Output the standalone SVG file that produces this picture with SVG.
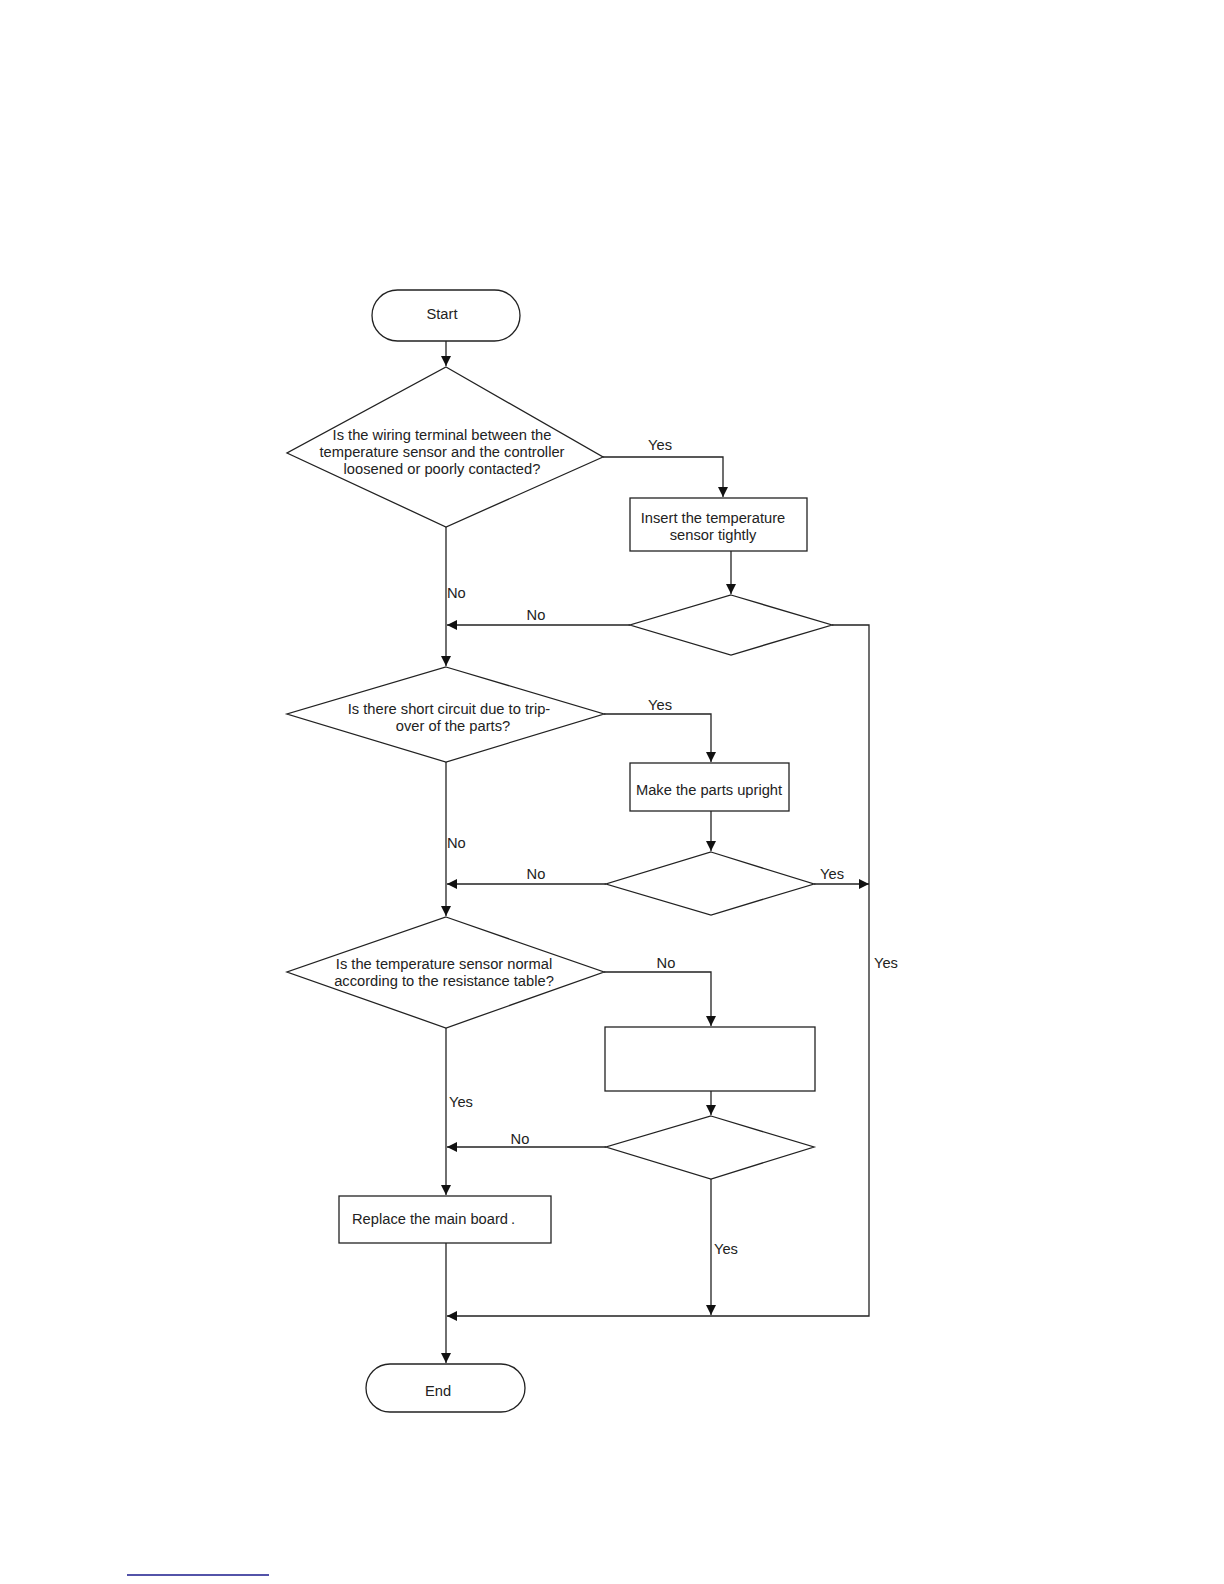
<svg xmlns="http://www.w3.org/2000/svg" width="1224" height="1584" viewBox="0 0 1224 1584">
<style>
.shape{fill:#fff;stroke:#222;stroke-width:1.3}
.conn{fill:none;stroke:#222;stroke-width:1.3}
text{font-family:"Liberation Sans",Arial,sans-serif;font-size:14.7px;fill:#222}
.c{text-anchor:middle}
</style>
<defs>
<marker id="arr" markerUnits="userSpaceOnUse" markerWidth="10" markerHeight="10" viewBox="0 0 10 10" refX="10" refY="5" orient="auto">
<path d="M0,0 L10,5 L0,10 z" fill="#111"/>
</marker>
</defs>
<rect width="1224" height="1584" fill="#fff"/>

<g id="connectors">
<path class="conn" d="M446,341 V366" marker-end="url(#arr)"/>
<path class="conn" d="M603,457 H723 V497" marker-end="url(#arr)"/>
<path class="conn" d="M731,551 V594" marker-end="url(#arr)"/>
<path class="conn" d="M630,625 H447" marker-end="url(#arr)"/>
<path class="conn" d="M832,625 H869 V1316 H447" marker-end="url(#arr)"/>
<path class="conn" d="M446,527 V666" marker-end="url(#arr)"/>
<path class="conn" d="M604,714 H711 V762" marker-end="url(#arr)"/>
<path class="conn" d="M711,811 V851" marker-end="url(#arr)"/>
<path class="conn" d="M606,884 H447" marker-end="url(#arr)"/>
<path class="conn" d="M814,884 H869" marker-end="url(#arr)"/>
<path class="conn" d="M446,762 V916" marker-end="url(#arr)"/>
<path class="conn" d="M604,972 H711 V1026" marker-end="url(#arr)"/>
<path class="conn" d="M711,1091 V1115" marker-end="url(#arr)"/>
<path class="conn" d="M606,1147 H447" marker-end="url(#arr)"/>
<path class="conn" d="M711,1179 V1315" marker-end="url(#arr)"/>
<path class="conn" d="M446,1028 V1195" marker-end="url(#arr)"/>
<path class="conn" d="M446,1243 V1363" marker-end="url(#arr)"/>
<text x="660" y="450" class="c">Yes</text>
<text x="536" y="620" class="c">No</text>
<text x="447" y="598">No</text>
<text x="660" y="710" class="c">Yes</text>
<text x="447" y="848">No</text>
<text x="536" y="879" class="c">No</text>
<text x="832" y="879" class="c">Yes</text>
<text x="666" y="968" class="c">No</text>
<text x="874" y="968">Yes</text>
<text x="449" y="1107">Yes</text>
<text x="520" y="1144" class="c">No</text>
<text x="714" y="1254">Yes</text>
</g>

<g id="start">
<rect class="shape" x="372" y="290" width="148" height="51" rx="25.5"/>
<text x="442" y="319" class="c">Start</text>
</g>

<g id="q1">
<polygon class="shape" points="446,367 603,457 446,527 287,453"/>
<text x="442" y="440" class="c">Is the wiring terminal between the</text>
<text x="442" y="457" class="c">temperature sensor and the controller</text>
<text x="442" y="474" class="c">loosened or poorly contacted?</text>
</g>

<g id="insert">
<rect class="shape" x="630" y="498" width="177" height="53"/>
<text x="713" y="523" class="c">Insert the temperature</text>
<text x="713" y="540" class="c">sensor tightly</text>
</g>

<g id="check1">
<polygon class="shape" points="731,595 832,625 731,655 630,625"/>
</g>

<g id="q2">
<polygon class="shape" points="446,667 604,714 446,762 287,714"/>
<text x="449" y="714" class="c">Is there short circuit due to trip-</text>
<text x="453" y="731" class="c">over of the parts?</text>
</g>

<g id="upright">
<rect class="shape" x="630" y="763" width="159" height="48"/>
<text x="709" y="795" class="c">Make the parts upright</text>
</g>

<g id="check2">
<polygon class="shape" points="711,852 814,884 711,915 606,884"/>
</g>

<g id="q3">
<polygon class="shape" points="446,917 604,972 446,1028 287,972"/>
<text x="444" y="969" class="c">Is the temperature sensor normal</text>
<text x="444" y="986" class="c">according to the resistance table?</text>
</g>

<g id="replace-sensor">
<rect class="shape" x="605" y="1027" width="210" height="64"/>
</g>

<g id="check3">
<polygon class="shape" points="711,1116 814,1147 711,1179 606,1147"/>
</g>

<g id="replace-board">
<rect class="shape" x="339" y="1196" width="212" height="47"/>
<text x="352" y="1224">Replace the main board<tspan dx="3">.</tspan></text>
</g>

<g id="end">
<rect class="shape" x="366" y="1364" width="159" height="48" rx="24"/>
<text x="438" y="1396" class="c">End</text>
</g>

<line x1="127" y1="1575" x2="269" y2="1575" stroke="#1a1a8c" stroke-width="1.5"/>
</svg>
